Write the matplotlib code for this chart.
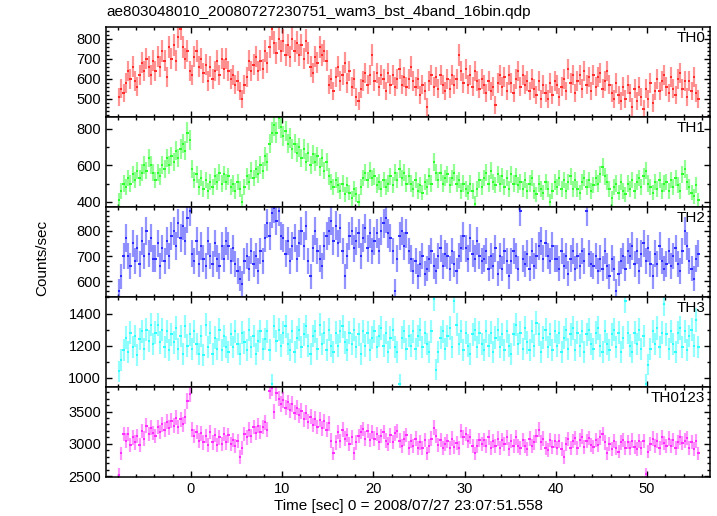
import numpy as np
import matplotlib
matplotlib.use('Agg')
import matplotlib.pyplot as plt
from matplotlib.ticker import MultipleLocator

plt.rcParams['font.family'] = ['Liberation Sans', 'DejaVu Sans']

# light curve, 0.25 s bins starting at t = -7.875
t_start = -7.875
bin_w = 0.25

th0 = [510, 550, 530, 580, 640, 600, 660, 590, 560, 620, 680, 640, 700, 660, 620, 690,
       640, 710, 660, 740, 690, 610, 760, 700, 770, 690, 810, 850, 760, 700, 740, 640,
       620, 710, 740, 660, 700, 630, 670, 590, 660, 600, 640, 690, 620, 700, 650, 700,
       640, 600, 620, 570, 590, 540, 500, 570, 610, 690, 640, 670, 710, 640, 690, 650,
       740, 680, 760, 850, 780, 730, 800, 740, 790, 720, 770, 710, 800, 740, 780, 720,
       770, 700, 790, 730, 660, 630, 710, 680, 760, 720, 740, 690, 570, 600, 540, 610,
       660, 590, 620, 680, 580, 640, 560, 600, 510, 490, 550, 590, 630, 570, 620, 720,
       590, 630, 560, 620, 600, 540, 630, 570, 620, 560, 600, 650, 570, 610, 560, 600,
       660, 590, 560, 600, 520, 570, 540, 460, 590, 620, 560, 610, 550, 620, 570, 540,
       600, 550, 620, 570, 600, 720, 640, 580, 650, 570, 620, 560, 640, 590, 550, 600,
       570, 530, 590, 540, 560, 470, 580, 620, 560, 610, 540, 620, 580, 530, 600, 640,
       560, 620, 570, 590, 540, 600, 550, 520, 590, 500, 570, 530, 500, 580, 520, 590,
       570, 510, 560, 600, 540, 650, 580, 620, 530, 590, 620, 550, 640, 570, 610, 540,
       620, 560, 610, 630, 550, 590, 640, 570, 530, 500, 580, 520, 490, 560, 500, 570,
       530, 460, 550, 490, 560, 510, 450, 550, 500, 580, 480, 540, 600, 540, 590, 620,
       560, 530, 610, 550, 520, 600, 630, 550, 590, 510, 590, 540, 610, 530, 500]

th1 = [410, 460, 500, 480, 530, 500, 550, 520, 570, 530, 560, 600, 570, 640, 600, 560,
       520, 560, 540, 600, 580, 640, 600, 650, 620, 680, 640, 690, 720, 680, 780, 740,
       580, 520, 550, 480, 530, 470, 520, 460, 510, 480, 540, 510, 560, 500, 550, 510,
       540, 480, 500, 460, 510, 470, 400, 480, 540, 510, 570, 530, 580, 550, 600, 570,
       650, 620, 720, 780, 820, 780, 860, 810, 760, 790, 720, 750, 690, 720, 670, 700,
       640, 690, 620, 670, 600, 660, 620, 650, 590, 640, 570, 620, 540, 510, 480, 520,
       490, 460, 500, 440, 490, 450, 420, 470, 440, 400, 480, 530, 560, 520, 570, 530,
       540, 490, 510, 470, 520, 480, 500, 540, 490, 560, 520, 580, 530, 560, 500, 540,
       500, 470, 520, 460, 490, 450, 510, 480, 540, 500, 620, 560, 520, 560, 500, 530,
       550, 490, 530, 560, 500, 520, 460, 500, 470, 450, 500, 460, 390, 470, 520, 480,
       530, 560, 500, 570, 510, 490, 550, 500, 540, 480, 530, 470, 550, 500, 540, 490,
       510, 470, 520, 460, 500, 530, 460, 440, 500, 470, 450, 510, 470, 400, 460, 510,
       480, 530, 470, 520, 460, 510, 540, 470, 520, 470, 450, 510, 530, 480, 520, 460,
       490, 530, 500, 550, 590, 540, 510, 470, 420, 480, 500, 450, 510, 460, 440, 500,
       470, 520, 460, 510, 530, 480, 540, 570, 500, 480, 450, 510, 470, 520, 460, 500,
       510, 460, 520, 480, 530, 490, 460, 550, 580, 510, 480, 450, 430, 490, 410]

th2 = [560, 620, 700, 770, 700, 660, 750, 680, 730, 670, 760, 700, 800, 710, 770, 690,
       690, 750, 660, 730, 680, 760, 700, 780, 800, 740, 830, 770, 820, 760, 850, 880,
       710, 680, 760, 670, 740, 690, 660, 760, 700, 670, 750, 690, 660, 740, 690, 760,
       740, 680, 730, 670, 640, 610, 590, 680, 700, 650, 720, 670, 700, 640, 720, 680,
       770, 830, 780, 870, 890, 840, 880, 780, 770, 710, 760, 680, 740, 770, 690, 750,
       800, 740, 820, 680, 620, 730, 800, 720, 690, 660, 740, 780, 800, 840, 760, 820,
       750, 810, 720, 620, 700, 780, 800, 730, 760, 790, 700, 770, 810, 730, 790, 720,
       760, 790, 720, 800, 830, 850, 790, 770, 720, 560, 690, 780, 800, 740, 790, 720,
       690, 640, 680, 620, 670, 700, 630, 650, 690, 720, 660, 640, 700, 730, 660, 710,
       700, 650, 720, 670, 640, 700, 730, 780, 730, 690, 770, 710, 690, 760, 700, 680,
       690, 720, 650, 700, 660, 730, 630, 700, 650, 720, 680, 620, 680, 720, 700, 650,
       880, 690, 670, 710, 650, 720, 660, 700, 740, 760, 690, 750, 700, 680, 740, 690,
       690, 650, 720, 660, 700, 630, 690, 720, 650, 700, 660, 720, 680, 880, 710, 670,
       660, 700, 640, 690, 650, 720, 660, 620, 690, 650, 560, 630, 680, 700, 650, 720,
       700, 740, 670, 720, 640, 710, 750, 680, 730, 670, 620, 710, 670, 740, 680, 650,
       670, 720, 660, 700, 730, 670, 640, 720, 800, 740, 680, 650, 610, 690, 710]

th3 = [1040, 1110, 1170, 1250, 1160, 1280, 1190, 1260, 1140, 1240, 1290, 1180, 1300, 1230, 1330, 1210,
       1280, 1330, 1220, 1300, 1190, 1290, 1170, 1270, 1220, 1310, 1180, 1260, 1150, 1320, 1200, 1270,
       1180, 1290, 1210, 1150, 1260, 1140, 1330, 1190, 1280, 1150, 1250, 1180, 1300, 1170, 1260, 1190,
       1160, 1270, 1190, 1290, 1210, 1150, 1280, 1220, 1170, 1300, 1190, 1260, 1150, 1230, 1290, 1180,
       1240, 1290, 1170, 960, 1320, 1230, 1300, 1200, 1280, 1320, 1210, 1170, 1290, 1160, 1250, 1300,
       1190, 1270, 1320, 1200, 1150, 1260, 1290, 1180, 1330, 1210, 1280, 1170, 1300, 1200, 1160, 1280,
       1200, 1290, 1320, 1220, 1170, 1280, 1210, 1300, 1190, 1270, 1150, 1290, 1200, 1280, 1170, 1250,
       1290, 1190, 1260, 1310, 1200, 1280, 1160, 1250, 1300, 1190, 1160, 960, 1250, 1290, 1180, 1260,
       1200, 1290, 1180, 1260, 1300, 1190, 1280, 1210, 1160, 1290, 1490, 1050, 1160, 1250, 1290, 1180,
       1260, 1310, 1190, 1480, 1330, 1210, 1290, 1170, 1280, 1200, 1150, 1270, 1300, 1190, 1280, 1210,
       1170, 1290, 1200, 1280, 1160, 1250, 1300, 1190, 1270, 1170, 1290, 1200, 1150, 1270, 1330, 1210,
       1280, 1180, 1310, 1220, 1170, 1290, 1200, 1340, 1270, 1160, 1250, 1300, 1190, 1270, 1170, 1290,
       1200, 1280, 1160, 1250, 1300, 1180, 1270, 1310, 1170, 1280, 1200, 1290, 1160, 1270, 1300, 1210,
       1180, 1280, 1310, 1200, 1160, 1290, 1210, 1170, 1270, 1300, 1190, 1280, 1160, 1250, 1480, 1280,
       1200, 1160, 1280, 1210, 1300, 1180, 1260, 960, 1080, 1180, 1290, 1210, 1310, 1190, 1280, 1460,
       1270, 1180, 1290, 1210, 1160, 1280, 1310, 1190, 1290, 1170, 1260, 1300, 1200, 1360, 1190]

th0123 = [2520, 2850, 3150, 3050, 3150, 2980, 3100, 3020, 3120, 2980, 3200, 3080, 3280, 3150, 3250, 3170,
          3120, 3260, 3180, 3300, 3220, 3340, 3250, 3360, 3280, 3400, 3260, 3380, 3300, 3420, 3660, 3770,
          3220, 3120, 3180, 3050, 3160, 3020, 3120, 2980, 3180, 3020, 3140, 2980, 3100, 2990, 3150, 3020,
          3130, 3000, 3060, 2960, 3040, 2800, 2930, 3150, 3100, 3220, 3120, 3260, 3170, 3280, 3180, 3260,
          3330, 3220, 3820, 3860, 3500, 3780, 3700, 3620, 3680, 3560, 3640, 3520, 3620, 3480, 3560, 3440,
          3510, 3380, 3480, 3340, 3420, 3290, 3390, 3260, 3370, 3240, 3350, 3220, 3320, 3050, 2850, 3020,
          3180, 3040, 3220, 3080, 3140, 3000, 3100, 2850, 3020, 3120, 3180, 3230, 3080, 3200, 3060, 3180,
          3080, 3150, 3020, 3120, 3180, 3050, 3000, 3130, 3030, 3160, 3200, 3050, 2970, 3080, 3140, 2930,
          3040, 2960, 3080, 2930, 3020, 2940, 3060, 2850, 2960, 3080, 3250, 3120, 2980, 3060, 2940, 3000,
          3040, 2930, 3080, 2950, 3010, 2940, 3200, 3100, 3150, 3040, 3110, 2960, 2850, 2970, 3060, 2990,
          3060, 2960, 3100, 2940, 3040, 2960, 3080, 2930, 3060, 2990, 3100, 2920, 3040, 2960, 3100, 2970,
          2940, 3060, 2970, 2920, 3080, 2960, 3020, 3120, 3220, 3020, 3080, 2940, 2910, 3060, 2950, 3040,
          2930, 3040, 2920, 2800, 3000, 3070, 2930, 3040, 3090, 2940, 3060, 3110, 2950, 3040, 3090, 2980,
          2950, 3060, 2980, 3100, 3150, 3020, 2850, 3000, 2920, 3040, 2930, 2880, 3020, 3060, 2940, 3030,
          2930, 3050, 2950, 2920, 3040, 2930, 3040, 2530, 2880, 3000, 3080, 2970, 3050, 2940, 3100, 3010,
          2970, 3080, 2960, 3060, 2930, 3030, 3100, 3010, 3050, 3090, 2940, 3030, 2920, 3040, 2850]

names = ['TH0', 'TH1', 'TH2', 'TH3', 'TH0123']
colors = ['#ff2a2a', '#2aff2a', '#2a2aff', '#2affff', '#ff2aff']
ylims = [(410, 858), (371, 866), (537, 895), (942, 1503), (2485, 3880)]
ymajor = [100, 200, 100, 200, 500]
yminor = [20, 100, 20, 100, 100]

fig = plt.figure(figsize=(7.17, 5.16), dpi=100)
left, right = 106 / 717, 710 / 717
top_px, h_px = 27, 90

series = [th0, th1, th2, th3, th0123]
for k, vals in enumerate(series):
    vals = np.array(vals, dtype=float)
    t = t_start + bin_w * np.arange(len(vals))
    err = np.sqrt(vals / bin_w)
    y0 = 1 - (top_px + h_px * (k + 1)) / 516
    ax = fig.add_axes([left, y0, right - left, h_px / 516])
    c = colors[k]
    # vertical error bars (lighter) and the bin-width bars
    ax.errorbar(t, vals, yerr=err, fmt='none', ecolor=c, elinewidth=1.6,
                alpha=0.5, capsize=0)
    ax.errorbar(t, vals, xerr=bin_w / 2, fmt='none', ecolor=c, elinewidth=1.4,
                capsize=0)
    ax.set_xlim(-9.3, 56.9)
    ax.set_ylim(*ylims[k])
    ax.xaxis.set_major_locator(MultipleLocator(10))
    ax.xaxis.set_minor_locator(MultipleLocator(2))
    ax.yaxis.set_major_locator(MultipleLocator(ymajor[k]))
    ax.yaxis.set_minor_locator(MultipleLocator(yminor[k]))
    ax.tick_params(which='both', direction='in', top=True, right=True,
                   labelsize=10.5, width=1)
    ax.tick_params(which='major', length=4.5)
    ax.tick_params(which='minor', length=2.2)
    for s in ax.spines.values():
        s.set_linewidth(1.1)
    if k < 4:
        ax.tick_params(labelbottom=False)
    ax.text(0.992, 0.96, names[k], transform=ax.transAxes, ha='right', va='top',
            fontsize=11)
    if k == 4:
        ax.set_xlabel('Time [sec] 0 = 2008/07/27 23:07:51.558', fontsize=11,
                      labelpad=2)

fig.text(106 / 717, 1 - 12 / 516, 'ae803048010_20080727230751_wam3_bst_4band_16bin.qdp',
         ha='left', va='center', fontsize=11)
fig.text(42 / 717, 0.5, 'Counts/sec', rotation=90, ha='center', va='center',
         fontsize=11)

plt.savefig('out.png', dpi=100)
